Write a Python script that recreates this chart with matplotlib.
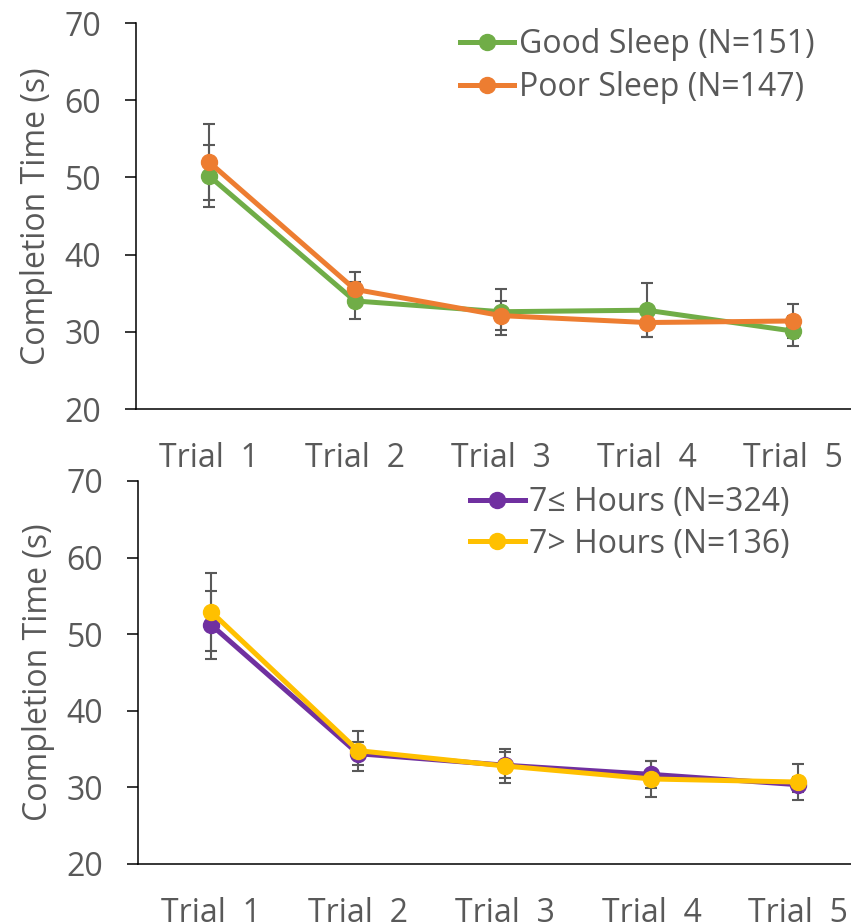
import numpy as np
import matplotlib.pyplot as plt

# trial labels
trials = ['Trial  1', 'Trial  2', 'Trial  3', 'Trial  4', 'Trial  5']

# top panel: sleep quality
good_mean = [50.2, 34.0, 32.6, 32.8, 30.1]
good_err = [4.0, 2.4, 3.0, 3.5, 1.9]
poor_mean = [52.0, 35.5, 32.1, 31.2, 31.4]
poor_err = [4.9, 2.2, 1.9, 1.9, 2.15]

# bottom panel: sleep hours
more7_mean = [51.2, 34.4, 32.9, 31.7, 30.35]
more7_err = [4.4, 1.5, 1.7, 1.8, 1.0]
less7_mean = [52.9, 34.8, 32.8, 31.1, 30.7]
less7_err = [5.15, 2.6, 2.2, 2.3, 2.4]

panels = [
    [(good_mean, good_err, '#70AD47', 'Good Sleep (N=151)'),
     (poor_mean, poor_err, '#ED7D31', 'Poor Sleep (N=147)')],
    [(more7_mean, more7_err, '#7030A0', '7\u2264 Hours (N=324)'),
     (less7_mean, less7_err, '#FFC000', '7> Hours (N=136)')],
]

plt.rcParams['font.family'] = ['Open Sans', 'DejaVu Sans']
gray = '#595959'
fs = 23

fig = plt.figure(figsize=(8.51, 9.24), dpi=100)
W, H = 851, 924
# axes boxes in pixels: left, top(70), bottom(20), xmax, legend anchor, legend spacing
boxes = [(136, 23, 409, 4.4, (0.453, 0.987), 0.32),
         (138, 481, 864, 4.36, (0.466, 0.987), 0.27)]

x = np.arange(len(trials))
for (left, top, bot, xmax, anchor, spacing), series in zip(boxes, panels):
    ax = fig.add_axes([left / W, 1 - bot / H, 1 - left / W, (bot - top) / H])
    for i, (m, e, c, lab) in enumerate(series):
        ax.errorbar(x, m, yerr=e, fmt='none', ecolor=gray, elinewidth=1.5,
                    capsize=4.3, capthick=1.5, zorder=2)
        ax.plot(x, m, color=c, lw=3.6, marker='o', ms=11.5, label=lab, zorder=3 + i)
    ax.set_xlim(-0.5, xmax)
    ax.set_ylim(20, 70)
    ax.set_yticks([20, 30, 40, 50, 60, 70])
    ax.set_xticks(x)
    ax.set_xticklabels(trials)
    ax.tick_params(axis='x', length=0, pad=24, labelsize=fs, labelcolor=gray)
    ax.tick_params(axis='y', length=8, width=1.1, pad=17, labelsize=fs, labelcolor=gray)
    for s in ['top', 'right']:
        ax.spines[s].set_visible(False)
    for s in ['left', 'bottom']:
        ax.spines[s].set_linewidth(1.1)
    ax.set_ylabel('Completion Time (s)', fontsize=fs, color=gray)
    ax.yaxis.set_label_coords(-0.116, 0.5)
    leg = ax.legend(loc='upper left', bbox_to_anchor=anchor, frameon=False,
                    fontsize=fs, handlelength=1.7, handletextpad=0.15,
                    labelspacing=spacing, borderaxespad=0, borderpad=0)
    for t in leg.get_texts():
        t.set_color(gray)

fig.savefig('out.png', dpi=100)
